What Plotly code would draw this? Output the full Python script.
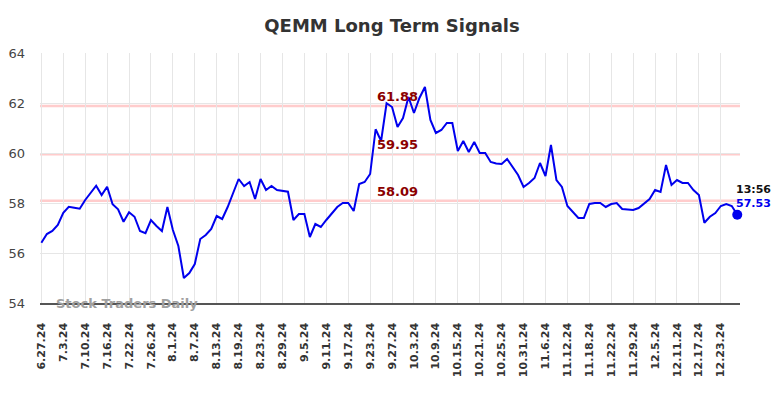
import plotly.graph_objects as go

dates = [
    "6.27.24", "6.28.24",
    "7.1.24", "7.2.24", "7.3.24", "7.5.24", "7.8.24", "7.9.24", "7.10.24", "7.11.24", "7.12.24",
    "7.15.24", "7.16.24", "7.17.24", "7.18.24", "7.19.24", "7.22.24", "7.23.24", "7.24.24", "7.25.24",
    "7.26.24", "7.29.24", "7.30.24", "7.31.24",
    "8.1.24", "8.2.24", "8.5.24", "8.6.24", "8.7.24", "8.8.24", "8.9.24", "8.12.24", "8.13.24", "8.14.24",
    "8.15.24", "8.16.24", "8.19.24", "8.20.24", "8.21.24", "8.22.24", "8.23.24", "8.26.24", "8.27.24",
    "8.28.24", "8.29.24", "8.30.24",
    "9.3.24", "9.4.24", "9.5.24", "9.6.24", "9.9.24", "9.10.24", "9.11.24", "9.12.24", "9.13.24",
    "9.16.24", "9.17.24", "9.18.24", "9.19.24", "9.20.24", "9.23.24", "9.24.24", "9.25.24", "9.26.24",
    "9.27.24", "9.30.24",
    "10.1.24", "10.2.24", "10.3.24", "10.4.24", "10.7.24", "10.8.24", "10.9.24", "10.10.24", "10.11.24",
    "10.14.24", "10.15.24", "10.16.24", "10.17.24", "10.18.24", "10.21.24", "10.22.24", "10.23.24",
    "10.24.24", "10.25.24", "10.28.24", "10.29.24", "10.30.24", "10.31.24",
    "11.1.24", "11.4.24", "11.5.24", "11.6.24", "11.7.24", "11.8.24", "11.11.24", "11.12.24", "11.13.24",
    "11.14.24", "11.15.24", "11.18.24", "11.19.24", "11.20.24", "11.21.24", "11.22.24", "11.25.24",
    "11.26.24", "11.27.24", "11.29.24",
    "12.2.24", "12.3.24", "12.4.24", "12.5.24", "12.6.24", "12.9.24", "12.10.24", "12.11.24", "12.12.24",
    "12.13.24", "12.16.24", "12.17.24", "12.18.24", "12.19.24", "12.20.24", "12.23.24", "12.24.24",
    "12.26.24", "12.27.24",
]

prices = [
    56.41, 56.76, 56.88, 57.12, 57.61, 57.85, 57.81, 57.77, 58.12, 58.41,
    58.69, 58.32, 58.65, 57.95, 57.75, 57.25, 57.63, 57.45, 56.88, 56.79,
    57.32, 57.08, 56.88, 57.84, 56.92, 56.28, 55.00, 55.20, 55.56, 56.56,
    56.72, 56.96, 57.48, 57.36, 57.84, 58.40, 58.96, 58.68, 58.84, 58.16,
    58.96, 58.52, 58.68, 58.52, 58.48, 58.45, 57.32, 57.56, 57.56, 56.64,
    57.16, 57.04, 57.32, 57.56, 57.84, 58.00, 58.00, 57.68, 58.76, 58.84,
    59.16, 60.95, 60.48, 61.99, 61.84, 61.04, 61.40, 62.24, 61.60, 62.20,
    62.64, 61.32, 60.80, 60.92, 61.20, 61.20, 60.08, 60.48, 60.04, 60.44,
    60.00, 60.00, 59.64, 59.58, 59.56, 59.76, 59.44, 59.12, 58.64, 58.80,
    59.00, 59.60, 59.08, 60.32, 58.92, 58.64, 57.88, 57.64, 57.40, 57.40,
    57.96, 58.00, 58.00, 57.84, 57.96, 58.00, 57.76, 57.74, 57.72, 57.80,
    58.00, 58.16, 58.52, 58.44, 59.52, 58.72, 58.92, 58.80, 58.80, 58.52,
    58.32, 57.21, 57.45, 57.60, 57.88, 57.96, 57.88, 57.53,
]

tick_labels = [
    "6.27.24", "7.3.24", "7.10.24", "7.16.24", "7.22.24", "7.26.24", "8.1.24", "8.7.24",
    "8.13.24", "8.19.24", "8.23.24", "8.29.24", "9.5.24", "9.11.24", "9.17.24", "9.23.24",
    "9.27.24", "10.3.24", "10.9.24", "10.15.24", "10.21.24", "10.25.24", "10.31.24", "11.6.24",
    "11.12.24", "11.18.24", "11.22.24", "11.29.24", "12.5.24", "12.11.24", "12.17.24", "12.23.24",
]

signal_levels = [61.88, 59.95, 58.09]
signal_labels = ["61.88", "59.95", "58.09"]
signal_label_date = "9.30.24"

last_time = "13:56"
last_price = prices[-1]

FONT = "DejaVu Sans"

fig = go.Figure()

for lvl in signal_levels:
    fig.add_hline(y=lvl, line=dict(color="#ffcccc", width=2.5), layer="below")

fig.add_trace(go.Scatter(
    x=dates, y=prices, mode="lines",
    line=dict(color="#0000ee", width=2),
    hoverinfo="skip", showlegend=False,
))
fig.add_trace(go.Scatter(
    x=[dates[-1]], y=[last_price], mode="markers",
    marker=dict(color="#0000ee", size=10),
    cliponaxis=False,
    hoverinfo="skip", showlegend=False,
))

for lvl, lab in zip(signal_levels, signal_labels):
    fig.add_annotation(
        x=signal_label_date, y=lvl, text="<b>%s</b>" % lab, showarrow=False,
        yanchor="bottom", yshift=0, xanchor="center",
        font=dict(family=FONT, size=13, color="#8b0000"),
    )

fig.add_annotation(
    x=dates[-1], y=last_price, text="<b>%s</b>" % last_time, showarrow=False,
    xanchor="center", yanchor="middle", xshift=16, yshift=25,
    font=dict(family=FONT, size=11, color="#111111"),
)
fig.add_annotation(
    x=dates[-1], y=last_price, text="<b>%.2f</b>" % last_price, showarrow=False,
    xanchor="center", yanchor="middle", xshift=16, yshift=11,
    font=dict(family=FONT, size=11, color="#0000ee"),
)

fig.add_annotation(
    xref="paper", yref="paper", x=0.02, y=0.0, text="<b>Stock Traders Daily</b>",
    showarrow=False, xanchor="left", yanchor="middle",
    font=dict(family=FONT, size=13, color="#a0a0a0"),
)

fig.update_layout(
    width=784, height=398,
    margin=dict(l=40, r=44, t=53, b=95),
    paper_bgcolor="white", plot_bgcolor="white",
    title=dict(
        text="<b>QEMM Long Term Signals</b>", x=0.5, xanchor="center",
        yref="container", y=0.935, yanchor="middle",
        font=dict(family=FONT, size=18, color="#333333"),
    ),
    font=dict(family=FONT),
)

fig.update_xaxes(
    type="category", automargin=False,
    categoryorder="array", categoryarray=dates,
    range=[-0.25, len(dates) - 0.5],
    tickmode="array", tickvals=tick_labels,
    ticktext=["<b>%s</b>" % t for t in tick_labels],
    tickangle=-90,
    tickfont=dict(family=FONT, size=11, color="#333333"),
    showgrid=True, gridcolor="#e6e6e6", gridwidth=1,
    showline=True, linecolor="#555555", linewidth=1.5,
    ticks="", ticklabelstandoff=14,
    zeroline=False,
)
fig.update_yaxes(
    automargin=False,
    range=[54, 64], tickvals=[54, 56, 58, 60, 62, 64],
    tickfont=dict(family=FONT, size=13, color="#444444"),
    showgrid=True, gridcolor="#e6e6e6", gridwidth=1,
    ticks="", ticklabelstandoff=14,
    zeroline=False, showline=False,
)

fig.write_html(
    "out.html",
    config={"displayModeBar": False, "staticPlot": True},
    post_script="document.body.style.margin='0';document.body.style.overflow='hidden';",
)
